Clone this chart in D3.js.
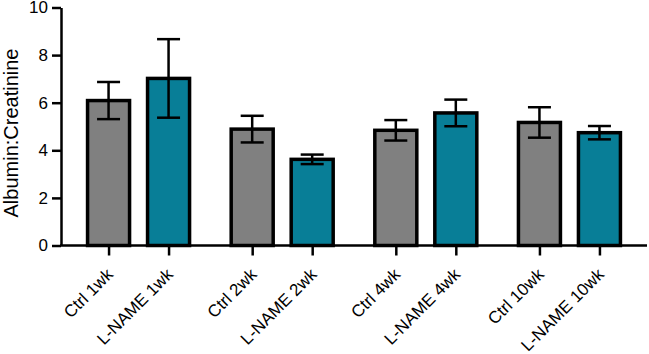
<!DOCTYPE html>
<html>
<head>
<meta charset="utf-8">
<script src="https://cdn.jsdelivr.net/npm/d3@7"></script>
<style>
  body { margin: 0; background: #fff; }
  svg { display: block; font-family: "Liberation Sans", Arial, sans-serif; }
</style>
</head>
<body>
<div id="chart"></div>
<script>
// Data
const weeks = ["1wk", "2wk", "4wk", "10wk"];
const groups = ["Ctrl", "L-NAME"];
const ctrlMean = [6.09, 4.89, 4.84, 5.17];
const ctrlSem = [0.78, 0.56, 0.43, 0.64];
const lnameMean = [7.02, 3.62, 5.57, 4.74];
const lnameSem = [1.65, 0.20, 0.56, 0.28];
const yTicks = [0, 2, 4, 6, 8, 10];

const colors = { "Ctrl": "#808080", "L-NAME": "#087e97" };

const data = [];
weeks.forEach((w, i) => {
    data.push({ week: w, group: "Ctrl", mean: ctrlMean[i], sem: ctrlSem[i] });
    data.push({ week: w, group: "L-NAME", mean: lnameMean[i], sem: lnameSem[i] });
});

const width = 649, height = 354;
const margin = { top: 7.5, right: 2, bottom: 108.5, left: 61 };

const svg = d3.select("#chart")
    .append("svg")
    .attr("width", width)
    .attr("height", height);

const x0 = d3.scaleBand()
    .domain(weeks)
    .range([margin.left, width - margin.right])
    .paddingOuter(0.04)
    .paddingInner(0);

const x1 = d3.scalePoint()
    .domain(groups)
    .range([-30, 30]);

const y = d3.scaleLinear()
    .domain([0, 10])
    .range([height - margin.bottom, margin.top]);

const cx = d => x0(d.week) + x0.bandwidth() / 2 + x1(d.group);
const barW = 42;

// bars
svg.selectAll("rect.bar")
    .data(data)
    .enter()
    .append("rect")
    .attr("class", "bar")
    .attr("x", d => cx(d) - barW / 2)
    .attr("y", d => y(d.mean))
    .attr("width", barW)
    .attr("height", d => y(0) - y(d.mean))
    .style("fill", d => colors[d.group])
    .style("stroke", "#000")
    .style("stroke-width", 3.5);

// error bars (mean +/- SEM)
const capW = 23;
const err = svg.selectAll("g.err")
    .data(data)
    .enter()
    .append("g")
    .attr("class", "err")
    .style("stroke", "#000")
    .style("stroke-width", 2.5);

err.append("line")
    .attr("x1", cx).attr("x2", cx)
    .attr("y1", d => y(d.mean + d.sem))
    .attr("y2", d => y(d.mean - d.sem));
err.append("line")
    .attr("x1", d => cx(d) - capW / 2).attr("x2", d => cx(d) + capW / 2)
    .attr("y1", d => y(d.mean + d.sem)).attr("y2", d => y(d.mean + d.sem));
err.append("line")
    .attr("x1", d => cx(d) - capW / 2).attr("x2", d => cx(d) + capW / 2)
    .attr("y1", d => y(d.mean - d.sem)).attr("y2", d => y(d.mean - d.sem));

// y axis
const yAxis = svg.append("g")
    .attr("transform", "translate(" + margin.left + ",0)")
    .call(d3.axisLeft(y).tickValues(yTicks).tickSize(9).tickPadding(4).tickSizeOuter(0));
yAxis.select(".domain").attr("stroke-width", 2.5);
yAxis.selectAll(".tick line").attr("stroke-width", 2.5);
yAxis.selectAll(".tick text")
    .style("font-size", "17px")
    .style("font-family", "'Liberation Sans', Arial, sans-serif")
    .attr("fill", "#000");

// x axis
const labels = data.map(d => d.group + " " + d.week);
const xPos = d3.scaleOrdinal()
    .domain(labels)
    .range(data.map(cx));

svg.append("line")
    .attr("x1", margin.left - 1).attr("x2", width - margin.right)
    .attr("y1", y(0)).attr("y2", y(0))
    .style("stroke", "#000")
    .style("stroke-width", 2.5);

const xAxis = svg.append("g")
    .attr("transform", "translate(0," + y(0) + ")")
    .call(d3.axisBottom(xPos).tickSize(10).tickSizeOuter(0));
xAxis.select(".domain").remove();
xAxis.selectAll(".tick line").attr("stroke-width", 2.5);
xAxis.selectAll(".tick text")
    .style("font-size", "17px")
    .style("font-family", "'Liberation Sans', Arial, sans-serif")
    .attr("fill", "#000")
    .attr("text-anchor", "end")
    .attr("dy", null)
    .attr("y", null)
    .attr("transform", "translate(5,30) rotate(-45)");

// y label
svg.append("text")
    .attr("transform", "translate(18,133) rotate(-90)")
    .attr("text-anchor", "middle")
    .style("font-size", "20px")
    .text("Albumin:Creatinine");
</script>
</body>
</html>
